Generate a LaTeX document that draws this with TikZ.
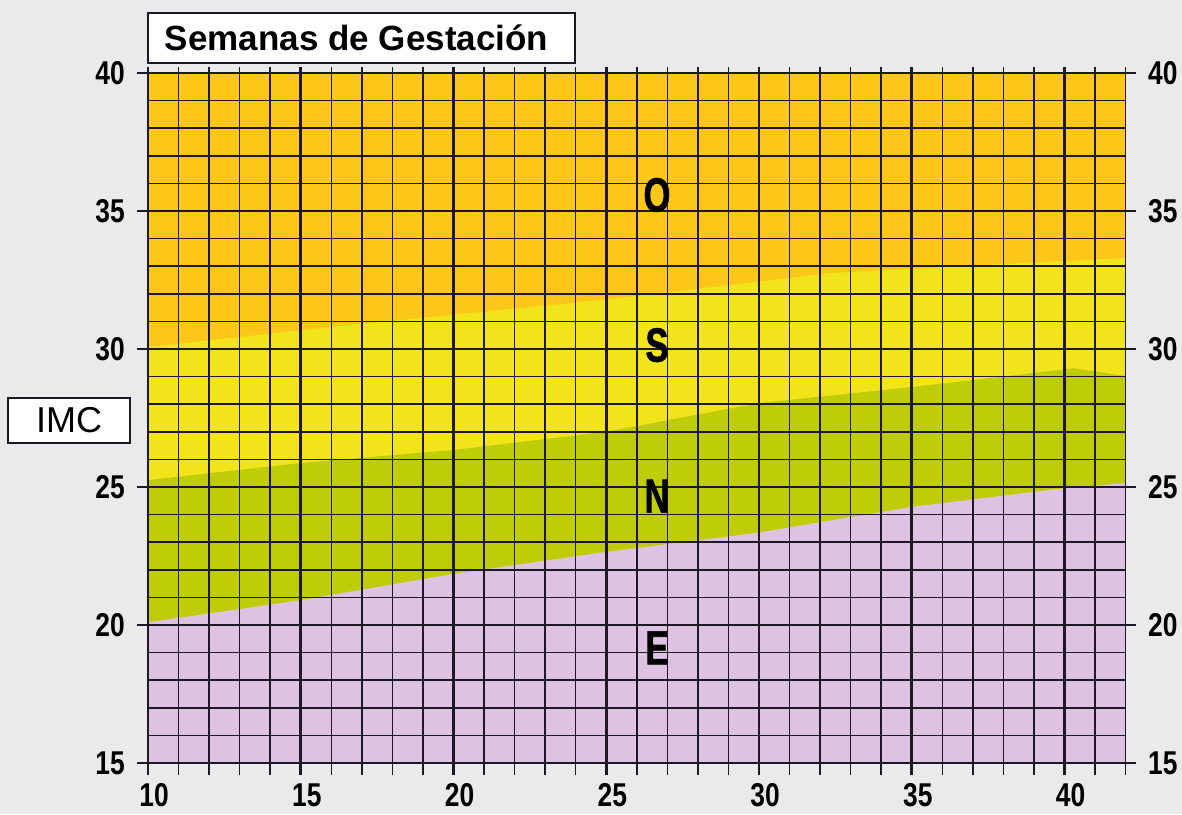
\documentclass[tikz,border=0pt]{standalone}
\usepackage{fontspec}
\setmainfont{Liberation Sans}
\newfontfamily\tickfont{Liberation Sans}[FakeStretch=0.8]
\newfontfamily\zonefont{Liberation Sans}[FakeStretch=0.72, FakeBold=1.2]
\definecolor{bg}{RGB}{234,234,234}
\definecolor{zO}{RGB}{252,199,24}
\definecolor{zS}{RGB}{241,228,26}
\definecolor{zN}{RGB}{191,205,8}
\definecolor{zE}{RGB}{221,195,225}
\definecolor{gridc}{RGB}{30,24,38}
\tikzset{
  minorln/.style={draw=gridc, line width=1.5pt},
  majorln/.style={draw=gridc, line width=2.6pt},
  ticklab/.style={inner sep=0pt, font=\tickfont\bfseries\fontsize{33}{33}\selectfont},
  zonelab/.style={inner sep=0pt, font=\zonefont\bfseries\fontsize{48}{48}\selectfont},
  labelbox/.style={draw=gridc, fill=white, inner sep=0pt},
}
\begin{document}
\begin{tikzpicture}[x=30.55pt, y=27.6pt]
\fill[bg] (5.155,13.152) rectangle (43.846,42.645);
\useasboundingbox (5.155,13.152) rectangle (43.846,42.645);
% zones
\fill[zO] (10,15) rectangle (42,40);
\fill[zS] (10,15) -- (42,15) -- (42,33.3) -- (32.3,32.75) -- (25.5,31.85) -- (16,30.8) -- (10,30.07) -- cycle;
\fill[zN] (10,15) -- (42,15) -- (42,29.02) -- (40.3,29.3) -- (35,28.62) -- (30,28.04) -- (25,27.0) -- (20,26.34) -- (15,25.87) -- (10,25.25) -- cycle;
\fill[zE] (10,15) -- (42,15) -- (42,25.14) -- (40,24.96) -- (35,24.28) -- (30,23.35) -- (25,22.65) -- (20,21.85) -- (15,20.9) -- (10,20.1) -- cycle;
% minor grid and ticks
\foreach \w in {10,...,42} {
  \draw[minorln] (\w,14.565) -- (\w,40.22);
}
\foreach \b in {15,...,40} {
  \draw[minorln] (10,\b) -- (42,\b);
}
% major grid and ticks
\foreach \w in {10,15,...,40} {
  \draw[majorln] (\w,14.565) -- (\w,40.22);
}
\foreach \b in {15,20,...,40} {
  \draw[majorln] (9.64,\b) -- (42.33,\b);
}
% axis labels
\foreach \b in {15,20,...,40} {
  \node[ticklab, anchor=east] (l\b) at (9.247,\b) {\b};
  \node[ticklab, anchor=west] (r\b) at (42.733,\b) {\b};
}
\foreach \w in {10,15,...,40} {
  \node[ticklab, anchor=north] (b\w) at (\w+0.2,14.27) {\w};
}
% zone letters
\node[zonelab] (O) at (26.66,35.58) {O};
\node[zonelab] (S) at (26.66,30.14) {S};
\node[zonelab] (N) at (26.66,24.67) {N};
\node[zonelab] (E) at (26.66,19.17) {E};
% boxes
\node[labelbox, line width=2pt, minimum width=427pt, minimum height=50pt,
      font=\bfseries\fontsize{35}{35}\selectfont] (title) at (16.989,41.268) {Semanas de Gestación\hspace*{10pt}};
\node[labelbox, line width=1.5pt, minimum width=122pt, minimum height=45pt,
      font=\fontsize{36}{36}\selectfont] (imc) at (7.414,27.409) {IMC};
\end{tikzpicture}
\end{document}
